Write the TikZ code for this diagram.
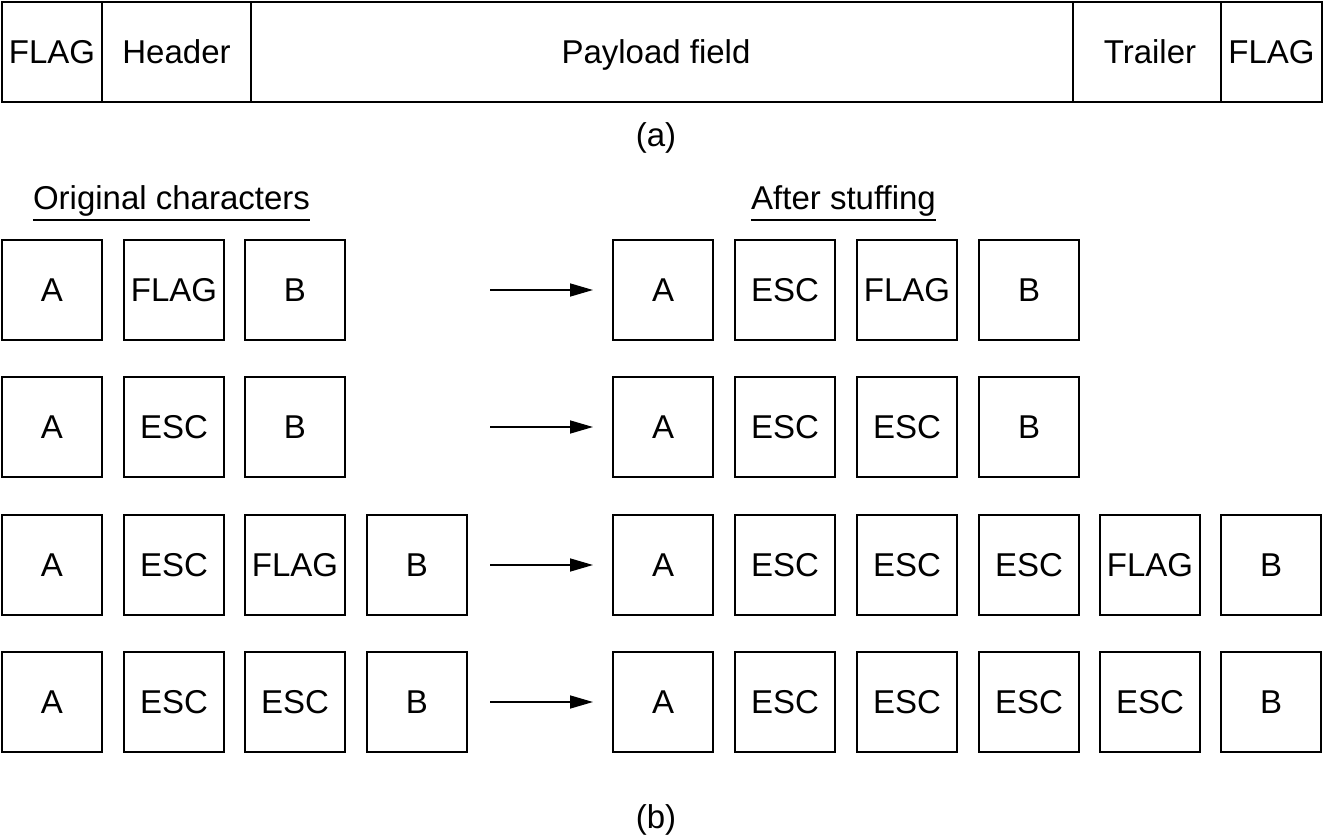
\documentclass[tikz,border=0pt]{standalone}
\usepackage{fontspec}
\setmainfont{Liberation Sans}
\usetikzlibrary{arrows.meta,calc}
\begin{document}
\begin{tikzpicture}[x=1pt,y=-1pt,
  every node/.style={font=\fontsize{33}{38}\selectfont},
  cell/.style={draw,line width=1.6pt,minimum width=100pt,minimum height=100pt,inner sep=0pt,text height=23.6pt,text depth=0pt},
  field/.style={draw,line width=1.6pt,minimum height=100pt,inner sep=0pt,text height=23.6pt,text depth=0pt},
  lbl/.style={inner sep=0pt},
  conv/.style={line width=1.6pt,-{Triangle[length=23pt,width=13pt]}}]
\useasboundingbox (0,0) rectangle (1326,840);
% (a) frame
\node[field,minimum width=100pt] (f1) at (52,52) {FLAG};
\node[field,minimum width=149pt] (f2) at (176.5,52) {Header};
\node[field,minimum width=822pt] (f3) at (662,52) {Payload field\hspace*{12pt}};
\node[field,minimum width=148pt] (f4) at (1147,52) {\hspace*{6pt}Trailer};
\node[field,minimum width=101pt] (f5) at (1271.5,52) {FLAG};
\node[lbl] (la) at (656,138) {(a)};
% headings
\node[lbl,anchor=base] (orig) at (171.5,209) {Original characters};
\node[lbl,anchor=base] (after) at (843.5,209) {After stuffing};
\draw[line width=2pt] ($(orig.base west)+(0,11)$) -- ($(orig.base east)+(0,11)$);
\draw[line width=2pt] ($(after.base west)+(0,11)$) -- ($(after.base east)+(0,11)$);
% row 1
\node[cell] (a1) at (52,290) {A};
\node[cell] (a2) at (174,290) {FLAG};
\node[cell] (a3) at (295,290) {B};
\node[cell] (b1) at (663,290) {A};
\node[cell] (b2) at (785,290) {ESC};
\node[cell] (b3) at (907,290) {FLAG};
\node[cell] (b4) at (1029,290) {B};
% row 2
\node[cell] (c1) at (52,427) {A};
\node[cell] (c2) at (174,427) {ESC};
\node[cell] (c3) at (295,427) {B};
\node[cell] (d1) at (663,427) {A};
\node[cell] (d2) at (785,427) {ESC};
\node[cell] (d3) at (907,427) {ESC};
\node[cell] (d4) at (1029,427) {B};
% row 3
\node[cell] (e1) at (52,565) {A};
\node[cell] (e2) at (174,565) {ESC};
\node[cell] (e3) at (295,565) {FLAG};
\node[cell] (e4) at (417,565) {B};
\node[cell] (g1) at (663,565) {A};
\node[cell] (g2) at (785,565) {ESC};
\node[cell] (g3) at (907,565) {ESC};
\node[cell] (g4) at (1029,565) {ESC};
\node[cell] (g5) at (1150,565) {FLAG};
\node[cell] (g6) at (1271,565) {B};
% row 4
\node[cell] (h1) at (52,702) {A};
\node[cell] (h2) at (174,702) {ESC};
\node[cell] (h3) at (295,702) {ESC};
\node[cell] (h4) at (417,702) {B};
\node[cell] (k1) at (663,702) {A};
\node[cell] (k2) at (785,702) {ESC};
\node[cell] (k3) at (907,702) {ESC};
\node[cell] (k4) at (1029,702) {ESC};
\node[cell] (k5) at (1150,702) {ESC};
\node[cell] (k6) at (1271,702) {B};
% arrows
\coordinate (s1) at (490,290); \coordinate (t1) at (593,290);
\coordinate (s2) at (490,427); \coordinate (t2) at (593,427);
\coordinate (s3) at (490,565); \coordinate (t3) at (593,565);
\coordinate (s4) at (490,702); \coordinate (t4) at (593,702);
\draw[conv] (s1) -- (t1);
\draw[conv] (s2) -- (t2);
\draw[conv] (s3) -- (t3);
\draw[conv] (s4) -- (t4);
\node[lbl] (lb) at (656,820) {(b)};
\end{tikzpicture}
\end{document}
